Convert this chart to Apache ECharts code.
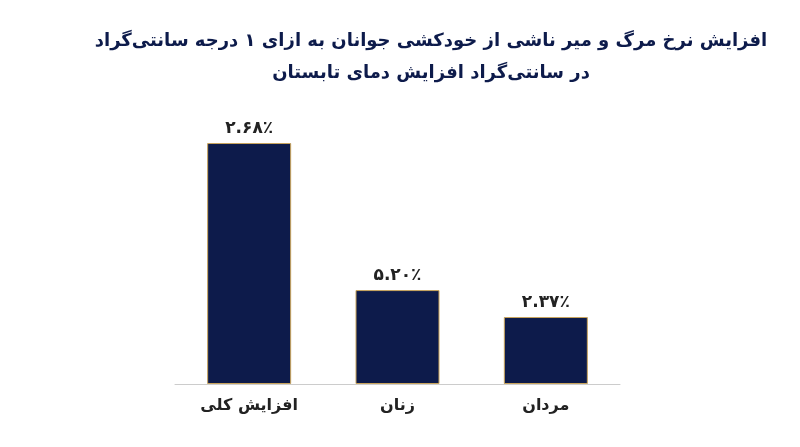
<!DOCTYPE html>
<html><head><meta charset="utf-8">
<script src="https://cdn.jsdelivr.net/npm/echarts@6/dist/echarts.min.js"></script>
<style>html,body{margin:0;background:#fff}#c{width:800px;height:447px}</style>
</head><body><div id="c"></div>
<script>
const categories = ['افزایش کلی', 'زنان', 'مردان'];
const values = [6.8, 2.65, 1.89];
const valueLabels = ['۲.۶۸٪', '۵.۲۰٪', '۲.۳۷٪'];
const font = 'DejaVu Sans';
const chart = echarts.init(document.getElementById('c'));
chart.setOption({
  backgroundColor: '#fff',
  title: {
    text: 'افزایش نرخ مرگ و میر ناشی از خودکشی جوانان به ازای ۱ درجه سانتی‌گراد\nدر سانتی‌گراد افزایش دمای تابستان',
    left: 426, top: 20, textAlign: 'center',
    textStyle: {fontFamily: font, fontSize: 18, fontWeight: 'bold', color: '#0d1b4b', lineHeight: 32}
  },
  grid: {left: 175, right: 180, top: 100.5, bottom: 63},
  xAxis: {
    type: 'category', data: categories,
    axisLine: {lineStyle: {color: '#cccccc'}}, axisTick: {show: false},
    axisLabel: {fontFamily: font, fontSize: 16, fontWeight: 'bold', color: '#222', margin: 14}
  },
  yAxis: {type: 'value', min: 0, max: 8, show: false, splitLine: {show: false}},
  series: [{
    type: 'bar', data: values, barWidth: 84,
    itemStyle: {color: '#0d1b4b', borderColor: '#c9a45c', borderWidth: 1},
    label: {show: true, position: 'top', distance: 6, fontFamily: font, fontSize: 17, fontWeight: 'bold', color: '#222',
      formatter: p => valueLabels[p.dataIndex]}
  }]
});
</script></body></html>
